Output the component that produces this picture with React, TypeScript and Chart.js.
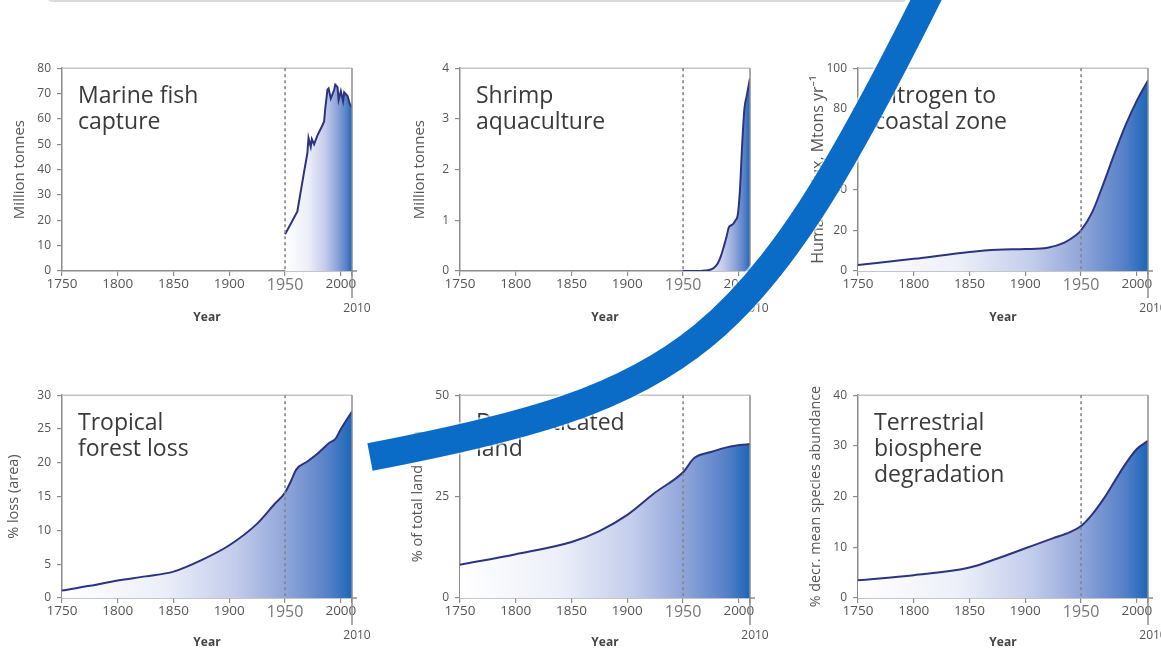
import React, { useEffect, useRef } from 'react';
import { Chart, registerables } from 'chart.js';

Chart.register(...registerables);

// ---------- data ----------
const X_MIN = 1750;
const X_MAX = 2010;
const MARK_YEAR = 1950;
const X_TICKS = [1750, 1800, 1850, 1900, 1950, 2000, 2010];

const FISH_YEARS = [1950, 1955, 1958, 1961, 1967, 1970, 1971, 1973, 1974, 1976, 1979, 1983, 1985, 1986, 1988, 1989, 1991, 1994, 1995, 1997, 1998, 2000, 2002, 2003, 2006, 2008, 2010];
const FISH_VALUES = [14.5, 18.5, 21, 23.5, 39, 46.5, 52.5, 49, 52, 50, 53.5, 57, 59, 64, 71.5, 72, 68, 71.5, 73.5, 72.5, 67.5, 71, 67, 70.5, 69, 66, 64.5];

const SHRIMP_YEARS = [1950, 1960, 1970, 1975, 1978, 1981, 1984, 1987, 1989, 1991, 1993, 1995, 1997, 1999, 2001, 2003, 2005, 2007, 2010];
const SHRIMP_VALUES = [0, 0, 0.01, 0.03, 0.07, 0.15, 0.3, 0.52, 0.68, 0.86, 0.9, 0.93, 1.0, 1.1, 1.6, 2.5, 3.2, 3.45, 3.8];

const NITROGEN_YEARS = [1750, 1800, 1850, 1875, 1900, 1920, 1935, 1945, 1950, 1960, 1970, 1980, 1990, 2000, 2010];
const NITROGEN_VALUES = [3, 6, 9.4, 10.5, 10.8, 11.5, 14, 17.5, 20, 29, 43, 58, 72, 84, 94];

const FOREST_YEARS = [1750, 1775, 1800, 1825, 1850, 1875, 1900, 1925, 1940, 1950, 1955, 1960, 1970, 1980, 1990, 1995, 2000, 2010];
const FOREST_VALUES = [1.1, 1.8, 2.6, 3.2, 3.9, 5.6, 7.8, 11, 13.8, 15.6, 17.2, 19, 20.2, 21.5, 23, 23.5, 25, 27.6];

const LAND_YEARS = [1750, 1800, 1850, 1875, 1900, 1925, 1950, 1960, 1975, 1990, 2010];
const LAND_VALUES = [8.2, 10.8, 13.8, 16.5, 20.5, 26, 31, 34.5, 36, 37.2, 38];

const BIOSPHERE_YEARS = [1750, 1800, 1850, 1875, 1900, 1925, 1940, 1950, 1960, 1970, 1980, 1990, 2000, 2010];
const BIOSPHERE_VALUES = [3.5, 4.5, 6, 7.8, 9.8, 11.8, 13, 14.2, 16.5, 19.5, 23, 26.5, 29.4, 31];

const PANEL_TITLES = [
  ['Marine fish', 'capture'],
  ['Shrimp', 'aquaculture'],
  ['Nitrogen to', 'coastal zone'],
  ['Tropical', 'forest loss'],
  ['Domesticated', 'land'],
  ['Terrestrial', 'biosphere', 'degradation'],
];
const Y_TITLES = [
  'Million tonnes',
  'Million tonnes',
  'Human N flux, Mtons yr\u207B\u00B9',
  '% loss (area)',
  '% of total land area',
  '% decr. mean species abundance',
];
const Y_MAXES = [80, 4, 100, 30, 50, 40];
const Y_STEPS = [10, 1, 20, 5, 25, 10];
const SERIES_YEARS = [FISH_YEARS, SHRIMP_YEARS, NITROGEN_YEARS, FOREST_YEARS, LAND_YEARS, BIOSPHERE_YEARS];
const SERIES_VALUES = [FISH_VALUES, SHRIMP_VALUES, NITROGEN_VALUES, FOREST_VALUES, LAND_VALUES, BIOSPHERE_VALUES];
const SMOOTH = [false, true, true, true, true, true];

// ---------- style / layout ----------
const FONT = "'Open Sans', 'Noto Sans', sans-serif";
const LINE_COLOR = '#2c3380';
const COL_LEFTS = [0, 398, 796];
const COL_WIDTHS = [398, 398, 365];
const ROW_TOPS = [55, 382];
const CANVAS_H = 270;
const Y_AXIS_W = 62;
const PLOT_W = 290;
const PLOT_TOP = 10;
const X_AXIS_H = 54;
const Y_TITLE_OFFSETS = [20, 22, 22, 14, 20, 20];
const Y_TITLE_SIZES = [15, 15, 16, 14.5, 14.5, 14.3];
const YEAR_PAD = [0, 0, 0, 2, 2, 2];

// decorative arrow band (not data)
const ARC_PATH = 'M 370 457 C 690 396, 752 348, 926 0 L 941 -30';

Chart.defaults.font.family = FONT;

function makeDecor(index: number) {
  return {
    id: 'decor' + index,
    afterDatasetsDraw(chart: any) {
      const { ctx, chartArea, scales } = chart;
      const xs = scales.x;
      ctx.save();
      ctx.strokeStyle = '#c4c4c4';
      ctx.lineWidth = 1.5;
      ctx.beginPath();
      ctx.moveTo(chartArea.left, chartArea.top);
      ctx.lineTo(chartArea.right, chartArea.top);
      ctx.stroke();
      const xr = xs.getPixelForValue(X_MAX);
      ctx.strokeStyle = '#8c8c8c';
      ctx.beginPath();
      ctx.moveTo(xr, chartArea.top);
      ctx.lineTo(xr, chartArea.bottom + 27);
      ctx.stroke();
      ctx.beginPath();
      ctx.moveTo(chartArea.right, chartArea.bottom);
      ctx.lineTo(chartArea.right + 5, chartArea.bottom);
      ctx.stroke();
      const xm = xs.getPixelForValue(MARK_YEAR);
      ctx.strokeStyle = '#858585';
      ctx.lineWidth = 1.6;
      ctx.setLineDash([3, 3]);
      ctx.beginPath();
      ctx.moveTo(xm, chartArea.top);
      ctx.lineTo(xm, chartArea.bottom);
      ctx.stroke();
      ctx.setLineDash([]);
      ctx.fillStyle = '#555';
      ctx.font = `12px ${FONT}`;
      ctx.textAlign = 'center';
      ctx.textBaseline = 'middle';
      ctx.fillText(String(X_MAX), xr + 5, chartArea.bottom + 38);
      ctx.fillStyle = '#3a3a3a';
      ctx.font = `23px ${FONT}`;
      ctx.textAlign = 'left';
      ctx.textBaseline = 'alphabetic';
      PANEL_TITLES[index].forEach((line, i) => {
        ctx.fillText(line, chartArea.left + 16, chartArea.top + 35 + i * 26);
      });
      ctx.restore();
    },
  };
}

function Panel({ index }: { index: number }) {
  const ref = useRef<HTMLCanvasElement>(null);
  const col = index % 3;
  const row = Math.floor(index / 3);
  const width = COL_WIDTHS[col];
  useEffect(() => {
    const canvas = ref.current!;
    const years = SERIES_YEARS[index];
    const values = SERIES_VALUES[index];
    const yTitleSize = Y_TITLE_SIZES[index];
    const chart = new Chart(canvas, {
      type: 'line',
      data: {
        datasets: [
          {
            data: years.map((x, i) => ({ x, y: values[i] })),
            borderColor: LINE_COLOR,
            borderWidth: 2,
            pointRadius: 0,
            tension: SMOOTH[index] ? 0.4 : 0,
            cubicInterpolationMode: SMOOTH[index] ? 'monotone' : 'default',
            fill: 'origin',
            backgroundColor: (c: any) => {
              const ch = c.chart;
              const { ctx, chartArea, scales } = ch;
              if (!chartArea || !scales.x) return 'rgba(0,0,0,0)';
              const x0 = scales.x.getPixelForValue(years[0]);
              const x1 = scales.x.getPixelForValue(years[years.length - 1]);
              const g = ctx.createLinearGradient(x0, 0, x1, 0);
              g.addColorStop(0, '#ffffff');
              g.addColorStop(0.35, '#eceff9');
              g.addColorStop(0.6, '#c2cceb');
              g.addColorStop(0.78, '#8da3d8');
              g.addColorStop(0.92, '#5480c8');
              g.addColorStop(1, '#1c66b9');
              return g;
            },
          } as any,
        ],
      },
      options: {
        responsive: false,
        maintainAspectRatio: false,
        animation: false,
        events: [],
        layout: {
          padding: { left: 0, right: width - Y_AXIS_W - PLOT_W, top: PLOT_TOP, bottom: 0 },
        },
        plugins: { legend: { display: false }, tooltip: { enabled: false } },
        scales: {
          x: {
            type: 'linear',
            min: X_MIN,
            max: X_MAX,
            afterFit: (s: any) => {
              s.height = X_AXIS_H;
            },
            afterBuildTicks: (s: any) => {
              s.ticks = X_TICKS.map((v) => ({ value: v }));
            },
            ticks: {
              autoSkip: false,
              maxRotation: 0,
              padding: 0,
              color: (c: any) => (c.tick && c.tick.value === MARK_YEAR ? '#777' : '#555'),
              font: (c: any) =>
                c.tick && c.tick.value === MARK_YEAR
                  ? { family: FONT, size: 16 }
                  : { family: FONT, size: 13.5 },
              callback: (v: any) => (v === X_MAX ? '' : String(v)),
            },
            grid: { drawOnChartArea: false, tickLength: 5, color: '#8c8c8c', lineWidth: 1.2 },
            border: { color: '#8c8c8c', width: 1.5 },
            title: {
              display: true,
              text: 'Year',
              color: '#444',
              font: { family: FONT, size: 12, weight: 'bold' },
              padding: { top: 0, bottom: YEAR_PAD[index] },
            },
          },
          y: {
            min: 0,
            max: Y_MAXES[index],
            afterFit: (s: any) => {
              s.width = Y_AXIS_W;
            },
            ticks: {
              stepSize: Y_STEPS[index],
              color: '#555',
              font: { family: FONT, size: 12 },
              padding: 6,
            },
            grid: { drawOnChartArea: false, tickLength: 5, color: '#8c8c8c', lineWidth: 1.2 },
            border: { color: '#8c8c8c', width: 1.5 },
            title: {
              display: true,
              text: Y_TITLES[index],
              color: '#555',
              font: { family: FONT, size: yTitleSize },
              padding: { top: Y_TITLE_OFFSETS[index] - (yTitleSize * 1.2) / 2, bottom: 0 },
            },
          },
        },
      } as any,
      plugins: [makeDecor(index)],
    });
    return () => chart.destroy();
  }, [index, width]);
  return (
    <canvas
      ref={ref}
      width={width}
      height={CANVAS_H}
      style={{ position: 'absolute', left: COL_LEFTS[col], top: ROW_TOPS[row], width, height: CANVAS_H }}
    />
  );
}

export default function App() {
  return (
    <div
      style={{
        position: 'absolute',
        left: 0,
        top: 0,
        width: 1161,
        height: 649,
        overflow: 'hidden',
        background: '#ffffff',
      }}
    >
      <div
        style={{
          position: 'absolute',
          left: 48,
          top: -20,
          width: 856,
          height: 20,
          borderBottom: '2px solid #d9d9d9',
          borderRight: '2px solid #d9d9d9',
          borderRadius: 4,
        }}
      />
      {[0, 1, 2, 3, 4, 5].map((i) => (
        <Panel key={i} index={i} />
      ))}
      <svg
        width={1161}
        height={649}
        style={{ position: 'absolute', left: 0, top: 0, pointerEvents: 'none' }}
      >
        <path d={ARC_PATH} fill="none" stroke="#ffffff" strokeWidth={32} strokeOpacity={0.6} />
        <path d={ARC_PATH} fill="none" stroke="#0a6cc6" strokeWidth={28} />
      </svg>
    </div>
  );
}
